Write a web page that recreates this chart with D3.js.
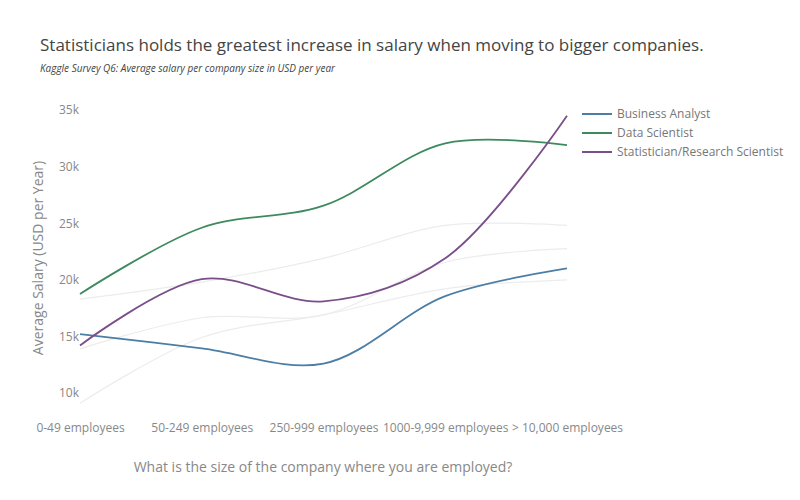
<!DOCTYPE html>
<html>
<head>
<meta charset="utf-8">
<script src="https://cdn.jsdelivr.net/npm/d3@7"></script>
<style>
  html, body { margin: 0; padding: 0; background: #fff; }
  svg { font-family: "Open Sans", "Noto Sans", sans-serif; }
</style>
</head>
<body>
<svg id="chart" width="800" height="500"></svg>
<script>
const categories = ["0-49 employees", "50-249 employees", "250-999 employees", "1000-9,999 employees", "> 10,000 employees"];
const businessAnalyst = [15200, 13950, 12600, 18550, 21000];
const dataScientist = [18750, 24600, 26550, 32050, 31900];
const statistician = [14200, 20050, 18100, 21900, 34500];
const otherA = [18300, 19800, 21900, 24800, 24800];
const otherB = [13900, 16650, 16900, 21550, 22750];
const otherC = [9100, 14900, 16900, 19200, 20000];
const yTicks = [10000, 15000, 20000, 25000, 30000, 35000];

const mainSeries = [
  { name: "Business Analyst", values: businessAnalyst, color: "#4a7ea6" },
  { name: "Data Scientist", values: dataScientist, color: "#3e8a5f" },
  { name: "Statistician/Research Scientist", values: statistician, color: "#7a4e89" }
];
const greySeries = [otherA, otherB, otherC];

const svg = d3.select("#chart");
const x = d3.scalePoint().domain(categories).range([80, 567]);
const y = d3.scaleLinear().domain([10000, 35000]).range([393, 110]);

const line = d3.line()
  .x((d, i) => x(categories[i]))
  .y(d => y(d))
  .curve(d3.curveCatmullRom.alpha(0.5));

// Title
svg.append("text").attr("x", 40).attr("y", 51)
  .attr("font-size", 17).attr("fill", "#444")
  .text("Statisticians holds the greatest increase in salary when moving to bigger companies.");
svg.append("text").attr("x", 40).attr("y", 72)
  .attr("font-size", 10).attr("font-style", "italic").attr("fill", "#444")
  .attr("textLength", 295).attr("lengthAdjust", "spacingAndGlyphs")
  .text("Kaggle Survey Q6: Average salary per company size in USD per year");

// Y axis
const yAxis = svg.append("g").attr("transform", "translate(79,0)")
  .call(d3.axisLeft(y).tickValues(yTicks).tickSize(0).tickPadding(0)
    .tickFormat(d => d3.format("d")(d / 1000) + "k"));
yAxis.select(".domain").remove();
yAxis.selectAll("text").attr("font-size", 12).attr("fill", "#888")
  .attr("font-family", "'Open Sans', sans-serif");

// X axis
const xAxis = svg.append("g").attr("transform", "translate(0,420)")
  .call(d3.axisBottom(x).tickSize(0).tickPadding(0));
xAxis.select(".domain").remove();
xAxis.selectAll("text").attr("font-size", 12).attr("fill", "#888")
  .attr("dy", "0.71em").attr("y", 3)
  .attr("font-family", "'Open Sans', sans-serif");

// Axis titles
svg.append("text").attr("x", 323).attr("y", 472).attr("text-anchor", "middle")
  .attr("font-size", 14).attr("fill", "#888")
  .text("What is the size of the company where you are employed?");
svg.append("text").attr("transform", "translate(43,258) rotate(-90)")
  .attr("text-anchor", "middle").attr("font-size", 14).attr("fill", "#888")
  .text("Average Salary (USD per Year)");

// Grey lines
svg.append("g").selectAll("path").data(greySeries).join("path")
  .attr("d", d => line(d)).attr("fill", "none")
  .attr("stroke", "#ececec").attr("stroke-width", 1.2);

// Main lines
svg.append("g").selectAll("path").data(mainSeries).join("path")
  .attr("d", d => line(d.values)).attr("fill", "none")
  .attr("stroke", d => d.color).attr("stroke-width", 1.8);

// Legend
const legend = svg.append("g").selectAll("g").data(mainSeries).join("g")
  .attr("transform", (d, i) => `translate(582,${114 + i * 19})`);
legend.append("line").attr("x1", 0).attr("x2", 30).attr("y1", 0).attr("y2", 0)
  .attr("stroke", d => d.color).attr("stroke-width", 2);
legend.append("text").attr("x", 35).attr("y", 0).attr("dy", "0.35em")
  .attr("font-size", 12).attr("fill", "#777").text(d => d.name);
</script>
</body>
</html>
